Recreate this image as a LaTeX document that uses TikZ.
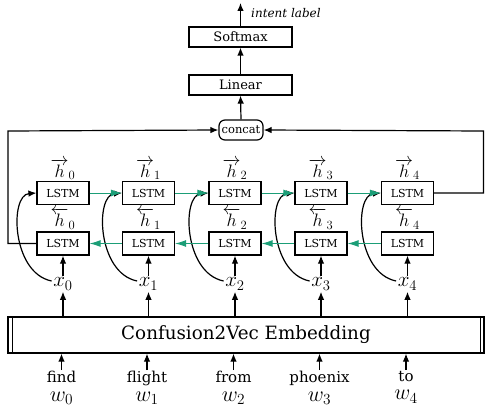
\RequirePackage{fix-cm}
\documentclass[tikz,border=0pt]{standalone}
\usepackage[no-math]{fontspec}
\setmainfont{DejaVu Serif}
\usetikzlibrary{arrows.meta,positioning,calc}
\definecolor{mygreen}{HTML}{1B9E77}
\begin{document}
\begin{tikzpicture}[x=1pt,y=1pt,
  box/.style={draw, line width=1.2pt, minimum width=103pt, minimum height=20pt, inner sep=0pt, font=\fontsize{13}{15}\selectfont},
  lstm/.style={draw, line width=1.2pt, minimum width=52pt, minimum height=23pt, inner sep=0pt, font=\fontsize{11}{13}\selectfont},
  arr/.style={line width=1.2pt, -{Latex[length=8pt,width=6.5pt]}},
  garr/.style={draw=mygreen, line width=1pt, -{Latex[length=11pt,width=7pt]}},
  hlab/.style={inner sep=0pt, font=\fontsize{18}{20}\selectfont},
  xlab/.style={inner sep=1.5pt, font=\fontsize{21}{23}\selectfont},
  wlab/.style={inner sep=1pt, align=center, anchor=north, font=\fontsize{15}{17}\selectfont},
]
\useasboundingbox (0,0) rectangle (485,-412);
% top stack
\node[box] (soft) at (240.5,-37) {Softmax};
\node[box] (lin) at (240.5,-85) {Linear};
\node[draw, line width=1.2pt, rounded corners=6pt, minimum width=44pt, minimum height=20pt, inner xsep=1pt, inner ysep=0pt, font=\fontsize{11.5}{13}\selectfont] (cc) at (241,-130) {concat};
\coordinate (top) at (240.5,-3);
\node[anchor=west, inner sep=0pt, font=\fontsize{12}{14}\selectfont\itshape] (il) at (251,-13) {intent label};
\draw[arr] (soft.north) -- (top);
\draw[arr] (lin.north) -- (soft.south);
\draw[arr] (cc.north) -- (lin.south);
% embedding
\node[draw, line width=1.2pt, minimum width=476pt, minimum height=36pt, inner sep=0pt, font=\fontsize{18.3}{20}\selectfont] (emb) at (246,-335) {Confusion2Vec Embedding};
\draw[line width=1pt] ([xshift=5pt]emb.north west) -- ([xshift=5pt]emb.south west);
\draw[line width=1pt] ([xshift=-4.5pt]emb.north east) -- ([xshift=-4.5pt]emb.south east);
% columns
\foreach \i/\xx/\ww in {0/63/find,1/148.5/flight,2/235/from,3/321/phoenix,4/407.5/to}{
  \node[lstm] (t\i) at (\xx,-193) {LSTM};
  \node[lstm] (b\i) at (\xx,-243.5) {LSTM};
  \node[hlab, above=1pt of t\i] (hr\i) {$\overrightarrow{h}_{\i}$};
  \node[hlab] (hl\i) at ($(t\i)!0.5!(b\i)+(0,-0.5)$) {$\overleftarrow{h}_{\i}$};
  \node[xlab] (x\i) at (\xx,-284) {$x_{\i}$};
  \node[wlab] (w\i) at (\xx-1.5,-370) {\ww\\[1.5pt]{\fontsize{22}{17}\selectfont$w_{\i}$}};
  \draw[arr] (x\i.north) -- (b\i.south);
  \draw[arr] (x\i.north |- emb.north) -- (x\i.south);
  \draw[arr] (w\i.north) -- (w\i.north |- emb.south);
  \draw[arr] ([yshift=3pt]x\i.west) .. controls +(-40,8) and +(-27,-2) .. (t\i.west);
}
\foreach \i/\j in {0/1,1/2,2/3,3/4}{
  \draw[garr] (t\i.east) -- (t\j.west);
  \draw[garr] (b\j.west) -- (b\i.east);
}
\coordinate (lc) at (8,-131);
\coordinate (rc) at (483.5,-131);
\draw[arr] (b0.west) -| (lc) -- (cc.west);
\draw[arr] (t4.east) -| (rc) -- (cc.east);
\end{tikzpicture}
\end{document}
